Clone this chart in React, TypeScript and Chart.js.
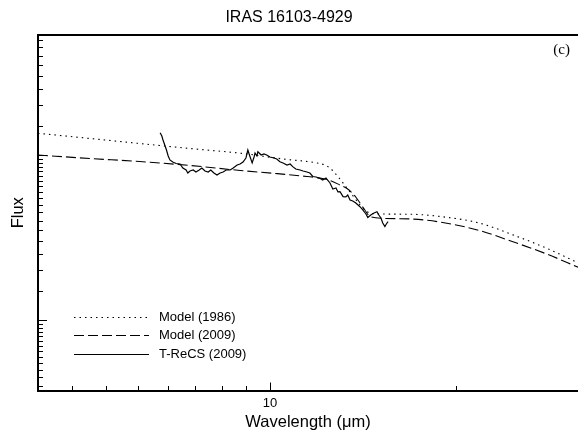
import React, { useEffect, useRef } from 'react';
import { Chart, registerables } from 'chart.js';

Chart.register(...registerables);

const chartTitle = 'IRAS 16103-4929';
const panelLabel = '(c)';
const xAxisTitle = 'Wavelength (\u03bcm)';
const yAxisTitle = 'Flux';

const seriesLabels = ['Model (1986)', 'Model (2009)', 'T-ReCS (2009)'];

const wavelengthModel1986 = [6.03, 6.76, 7.53, 8.40, 9.43, 10.29, 11.08, 11.27, 11.40, 11.52, 11.65, 11.78, 11.91, 12.04, 12.17, 12.30, 12.44, 12.71, 13.66, 14.71, 15.81, 16.99, 18.29, 19.58];
const fluxModel1986 = [13.54, 12.59, 11.74, 10.95, 10.21, 9.46, 8.95, 8.70, 8.34, 7.78, 7.15, 6.53, 5.97, 5.45, 4.98, 4.64, 4.45, 4.39, 4.37, 4.19, 3.86, 3.28, 2.72, 2.22];

const wavelengthModel2009 = [6.03, 6.76, 7.53, 8.40, 9.37, 10.07, 10.84, 11.15, 11.40, 11.65, 11.83, 12.04, 12.17, 12.30, 12.44, 12.79, 13.66, 14.71, 15.81, 16.99, 18.29, 19.58];
const fluxModel2009 = [10.0, 9.52, 9.13, 8.64, 8.06, 7.75, 7.41, 7.25, 7.01, 6.58, 6.26, 5.64, 5.12, 4.64, 4.24, 4.13, 4.09, 3.86, 3.48, 2.98, 2.51, 2.09];

const wavelengthTReCS = [
  7.87, 7.90, 7.92, 7.95, 7.98, 8.01, 8.04, 8.09, 8.15, 8.22,
  8.27, 8.33, 8.36, 8.40, 8.46, 8.51, 8.57, 8.62, 8.68, 8.74,
  8.79, 8.85, 8.91, 8.97, 9.03, 9.09, 9.17, 9.23, 9.31, 9.37,
  9.43, 9.49, 9.53, 9.57, 9.62, 9.66, 9.68, 9.72, 9.74, 9.81,
  9.87, 9.93, 10.00, 10.09, 10.15, 10.22, 10.29, 10.38, 10.45, 10.51,
  10.58, 10.68, 10.75, 10.84, 10.91, 10.98, 11.06, 11.15, 11.22, 11.30,
  11.40, 11.47, 11.55, 11.60, 11.65, 11.73, 11.80, 11.85, 11.91, 11.98,
  12.06, 12.17, 12.25, 12.33, 12.38, 12.46, 12.55, 12.63, 12.68, 12.74,
  12.79, 12.85, 12.89, 12.94,
];
const fluxTReCS = [
  13.65, 13.04, 12.33, 11.50, 10.72, 9.86, 9.33, 9.07, 8.88, 8.82,
  8.34, 8.11, 7.78, 8.00, 8.11, 7.89, 8.11, 8.34, 8.00, 7.89,
  8.11, 7.78, 7.56, 7.78, 7.89, 8.11, 8.11, 8.34, 8.70, 8.82,
  9.07, 9.59, 10.72, 9.86, 8.95, 9.73, 10.28, 9.86, 10.47, 10.00,
  10.14, 10.00, 9.73, 9.59, 9.46, 9.11, 8.95, 8.70, 8.82, 8.50,
  8.23, 8.11, 8.00, 7.89, 7.78, 7.41, 7.36, 7.22, 7.06, 7.25,
  6.77, 6.22, 6.31, 5.97, 5.99, 5.59, 5.57, 5.72, 5.34, 5.26,
  5.12, 4.86, 4.64, 4.39, 4.18, 4.33, 4.45, 4.53, 4.33, 4.15,
  3.87, 3.68, 3.82, 3.94,
];

const xMin = 6.03;
const xMax = 19.58;
const yMin = 0.3738;
const yMax = 53.38;

const xTickValues = [6.5, 7, 7.5, 8, 8.5, 9, 9.5, 10, 15];
const xTickLabels = ['', '', '', '', '', '', '', '10', ''];
const xMajorTicks = [10];

const yTickValues = [
  0.4, 0.45, 0.5, 0.55, 0.6, 0.65, 0.7, 0.75, 0.8, 0.85, 0.9, 0.95,
  1, 1.5, 2, 2.5, 3, 3.5, 4, 4.5, 5, 5.5, 6, 6.5, 7, 7.5, 8, 8.5, 9, 9.5,
  10, 15, 20, 25, 30, 35, 40, 45, 50,
];
const yMajorTicks = [1, 10];

const SANS = '"Liberation Sans", Arial, Helvetica, sans-serif';
const SERIF = '"Liberation Serif", "Times New Roman", serif';

const toPoints = (xs: number[], ys: number[]) => xs.map((x, i) => ({ x, y: ys[i] }));

const framePlugin = {
  id: 'framePlugin',
  afterDraw(chart: any) {
    const { ctx, chartArea } = chart;
    const xs = chart.scales.x;
    const ys = chart.scales.y;
    ctx.save();
    ctx.strokeStyle = '#000';
    ctx.lineWidth = 1;
    // inward tick marks on x axis
    xs.ticks.forEach((t: any) => {
      const px = Math.round(xs.getPixelForValue(t.value)) + 0.5;
      const len = xMajorTicks.includes(t.value) ? 8 : 4.5;
      ctx.beginPath();
      ctx.moveTo(px, chartArea.bottom);
      ctx.lineTo(px, chartArea.bottom - len);
      ctx.stroke();
    });
    // inward tick marks on y axis
    ys.ticks.forEach((t: any) => {
      const py = Math.round(ys.getPixelForValue(t.value)) + 0.5;
      const len = yMajorTicks.includes(t.value) ? 9 : 5;
      ctx.beginPath();
      ctx.moveTo(chartArea.left, py);
      ctx.lineTo(chartArea.left + len, py);
      ctx.stroke();
    });
    // top frame line
    ctx.lineWidth = 2;
    ctx.beginPath();
    ctx.moveTo(chartArea.left - 1, chartArea.top);
    ctx.lineTo(chartArea.right, chartArea.top);
    ctx.stroke();

    // panel label
    ctx.fillStyle = '#000';
    ctx.font = '15px ' + SERIF;
    ctx.textAlign = 'right';
    ctx.textBaseline = 'middle';
    ctx.fillText(panelLabel, chartArea.right - 8, chartArea.top + 15);

    // legend
    const lx0 = chartArea.left + 36;
    const lx1 = chartArea.left + 111;
    const tx = chartArea.left + 121;
    const rowY0 = chartArea.bottom - 74;
    const rowGap = 18.8;
    ctx.font = '13px ' + SANS;
    ctx.textAlign = 'left';
    chart.data.datasets.forEach((ds: any, i: number) => {
      const y = Math.round(rowY0 + i * rowGap) + 0.5;
      ctx.save();
      ctx.strokeStyle = '#000';
      ctx.lineWidth = ds.borderWidth;
      ctx.setLineDash(ds.borderDash || []);
      ctx.beginPath();
      ctx.moveTo(lx0, y);
      ctx.lineTo(lx1, y);
      ctx.stroke();
      ctx.restore();
      ctx.fillText(ds.label, tx, y);
    });
    ctx.restore();
  },
};

export default function App() {
  const canvasRef = useRef<HTMLCanvasElement | null>(null);

  useEffect(() => {
    if (!canvasRef.current) return;
    const chart = new Chart(canvasRef.current, {
      type: 'line',
      data: {
        datasets: [
          {
            label: seriesLabels[0],
            data: toPoints(wavelengthModel1986, fluxModel1986),
            borderColor: '#000',
            borderWidth: 1.1,
            borderDash: [1.5, 4],
            pointRadius: 0,
            cubicInterpolationMode: 'monotone',
            fill: false,
          },
          {
            label: seriesLabels[1],
            data: toPoints(wavelengthModel2009, fluxModel2009),
            borderColor: '#000',
            borderWidth: 1.1,
            borderDash: [10, 4],
            pointRadius: 0,
            cubicInterpolationMode: 'monotone',
            fill: false,
          },
          {
            label: seriesLabels[2],
            data: toPoints(wavelengthTReCS, fluxTReCS),
            borderColor: '#000',
            borderWidth: 1.2,
            borderDash: [],
            pointRadius: 0,
            tension: 0,
            fill: false,
          },
        ],
      },
      options: {
        animation: false,
        responsive: false,
        devicePixelRatio: 1,
        color: '#000',
        layout: { padding: 0 },
        font: { family: SANS },
        plugins: {
          legend: { display: false },
          tooltip: { enabled: false },
          title: {
            display: true,
            text: chartTitle,
            color: '#000',
            font: { family: SANS, size: 16, weight: 'normal' },
            padding: { top: 7.5, bottom: 8.3 },
          },
        },
        scales: {
          x: {
            type: 'logarithmic',
            min: xMin,
            max: xMax,
            afterBuildTicks: (scale: any) => {
              scale.ticks = xTickValues.map((v) => ({ value: v, major: xMajorTicks.includes(v) }));
            },
            afterFit: (scale: any) => {
              scale.height = 45.5;
            },
            grid: { display: false, drawTicks: false },
            border: { display: true, color: '#000', width: 2 },
            ticks: {
              autoSkip: false,
              maxRotation: 0,
              minRotation: 0,
              padding: 5,
              color: '#000',
              font: { family: SANS, size: 13 },
              callback: (value: any) => {
                const idx = xTickValues.indexOf(Number(value));
                return idx >= 0 ? xTickLabels[idx] : '';
              },
            },
            title: {
              display: true,
              text: xAxisTitle,
              color: '#000',
              font: { family: SANS, size: 16.5 },
              padding: { top: 0, bottom: 4 },
            },
          },
          y: {
            type: 'logarithmic',
            min: yMin,
            max: yMax,
            afterBuildTicks: (scale: any) => {
              scale.ticks = yTickValues.map((v) => ({ value: v, major: yMajorTicks.includes(v) }));
            },
            afterFit: (scale: any) => {
              scale.width = 38;
            },
            grid: { display: false, drawTicks: false },
            border: { display: true, color: '#000', width: 2 },
            ticks: { display: false },
            title: {
              display: true,
              text: yAxisTitle,
              color: '#000',
              font: { family: SANS, size: 16.5 },
              padding: { top: 9, bottom: 0 },
            },
          },
        },
      },
      plugins: [framePlugin],
    } as any);
    return () => chart.destroy();
  }, []);

  return (
    <div style={{ position: 'fixed', left: 0, top: 0, width: 578, height: 436, background: '#fff' }}>
      <canvas ref={canvasRef} width={578} height={436} style={{ display: 'block' }} />
    </div>
  );
}
